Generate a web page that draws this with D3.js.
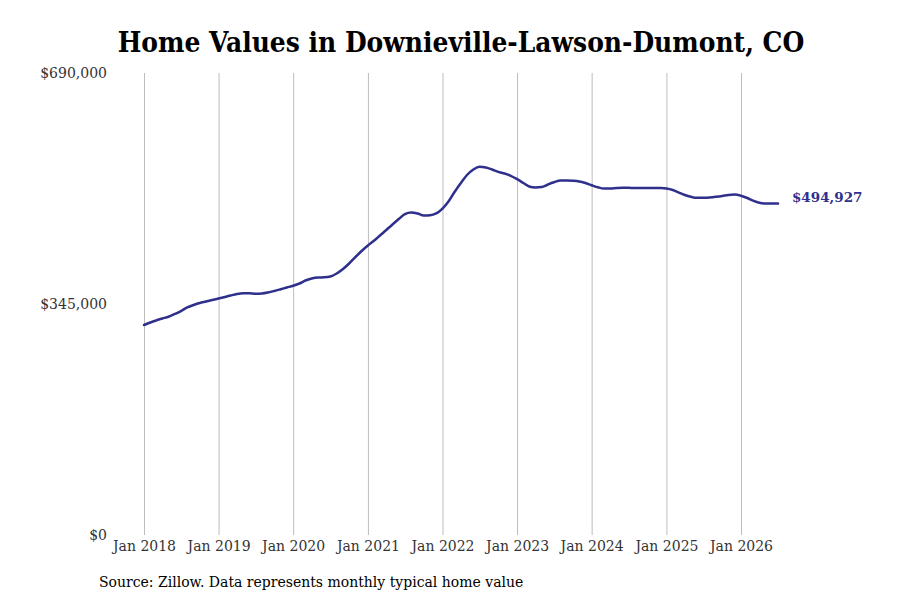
<!DOCTYPE html>
<html>
<head>
<meta charset="utf-8">
<script src="https://cdn.jsdelivr.net/npm/d3@7/dist/d3.min.js"></script>
<style>
  html, body { margin: 0; padding: 0; background: #fff; }
  svg { display: block; }
</style>
</head>
<body>
<svg id="chart" width="900" height="600"></svg>
<script>
const title = "Home Values in Downieville-Lawson-Dumont, CO";
const source = "Source: Zillow. Data represents monthly typical home value";
const startMonth = "2018-01";
const values = [
  313600, 317400, 320400, 323300, 325900, 330100, 334500, 339800, 343500, 346500, 348700, 351000,
  353200, 355500, 357700, 359900, 361000, 361000, 360400, 360700, 362200, 364400, 367000, 369600,
  372200, 375600, 380100, 383100, 384600, 384900, 386100, 390600, 397300, 405500, 415200, 424200,
  432400, 439800, 447300, 455500, 463700, 471900, 479400, 481700, 480200, 477200, 477500, 480200,
  487600, 498800, 512300, 525700, 537700, 545900, 550100, 548900, 545900, 542400, 539900, 536500,
  531400, 525700, 520500, 519000, 519700, 523500, 526800, 529400, 529400, 529000, 528000, 525700,
  522400, 519300, 517500, 517500, 518200, 518700, 518500, 518200, 518200, 518400, 518400, 518200,
  517500, 515300, 511800, 507800, 505100, 503600, 503600, 504100, 505100, 506300, 507800, 508400,
  506700, 503300, 499300, 496100, 495100, 495100, 494927
];
const yTicks = [0, 345000, 690000];
const xTickYears = [2018, 2019, 2020, 2021, 2022, 2023, 2024, 2025, 2026];

const [sy, sm] = startMonth.split("-").map(Number);
const data = values.map((v, i) => ({ date: new Date(sy, sm - 1 + i, 1), value: v }));

const svg = d3.select("#chart");
const x = d3.scaleTime()
  .domain([new Date(2018, 0, 1), new Date(2026, 0, 1)])
  .range([144, 741]);
const y = d3.scaleLinear().domain([0, 690000]).range([535, 73]);

const serif = "'DejaVu Serif', serif";
const lineColor = "#2f2f8c";

// title
svg.append("text")
  .attr("x", 461).attr("y", 52)
  .attr("text-anchor", "middle")
  .style("font-family", serif).style("font-weight", "bold")
  .style("font-stretch", "condensed")
  .style("font-size", "27.8px").attr("fill", "#000")
  .text(title);

// vertical grid + x labels
const xTicks = xTickYears.map(yr => new Date(yr, 0, 1));
const xAxis = d3.axisBottom(x).tickValues(xTicks)
  .tickSize(-(535 - 73)).tickFormat(d3.timeFormat("Jan %Y")).tickPadding(6);
const gx = svg.append("g").attr("transform", "translate(0,535)").call(xAxis);
gx.select(".domain").remove();
gx.selectAll(".tick line").attr("stroke", "#bdbdbd").attr("stroke-width", 1);
gx.selectAll(".tick text")
  .style("font-family", serif).style("font-size", "14px").attr("fill", "#333");

// y labels
const yAxis = d3.axisLeft(y).tickValues(yTicks).tickSize(0).tickPadding(0)
  .tickFormat(d => "$" + d3.format(",")(d));
const gy = svg.append("g").attr("transform", "translate(107,0)").call(yAxis);
gy.select(".domain").remove();
gy.selectAll(".tick text")
  .style("font-family", serif).style("font-size", "14px").attr("fill", "#333");

// line
const line = d3.line().x(d => x(d.date)).y(d => y(d.value)).curve(d3.curveMonotoneX);
svg.append("path").datum(data)
  .attr("fill", "none").attr("stroke", lineColor).attr("stroke-width", 2.5)
  .attr("stroke-linejoin", "round").attr("stroke-linecap", "round")
  .attr("d", line);

// end label
const last = data[data.length - 1];
svg.append("text")
  .attr("x", x(last.date) + 14).attr("y", y(last.value) - 5)
  .attr("dominant-baseline", "middle")
  .style("font-family", serif).style("font-weight", "bold").style("font-size", "13.5px")
  .attr("fill", lineColor)
  .text("$" + d3.format(",")(last.value));

// source
svg.append("text")
  .attr("x", 99).attr("y", 587)
  .style("font-family", serif).style("font-size", "14px").attr("fill", "#000")
  .text(source);
</script>
</body>
</html>
